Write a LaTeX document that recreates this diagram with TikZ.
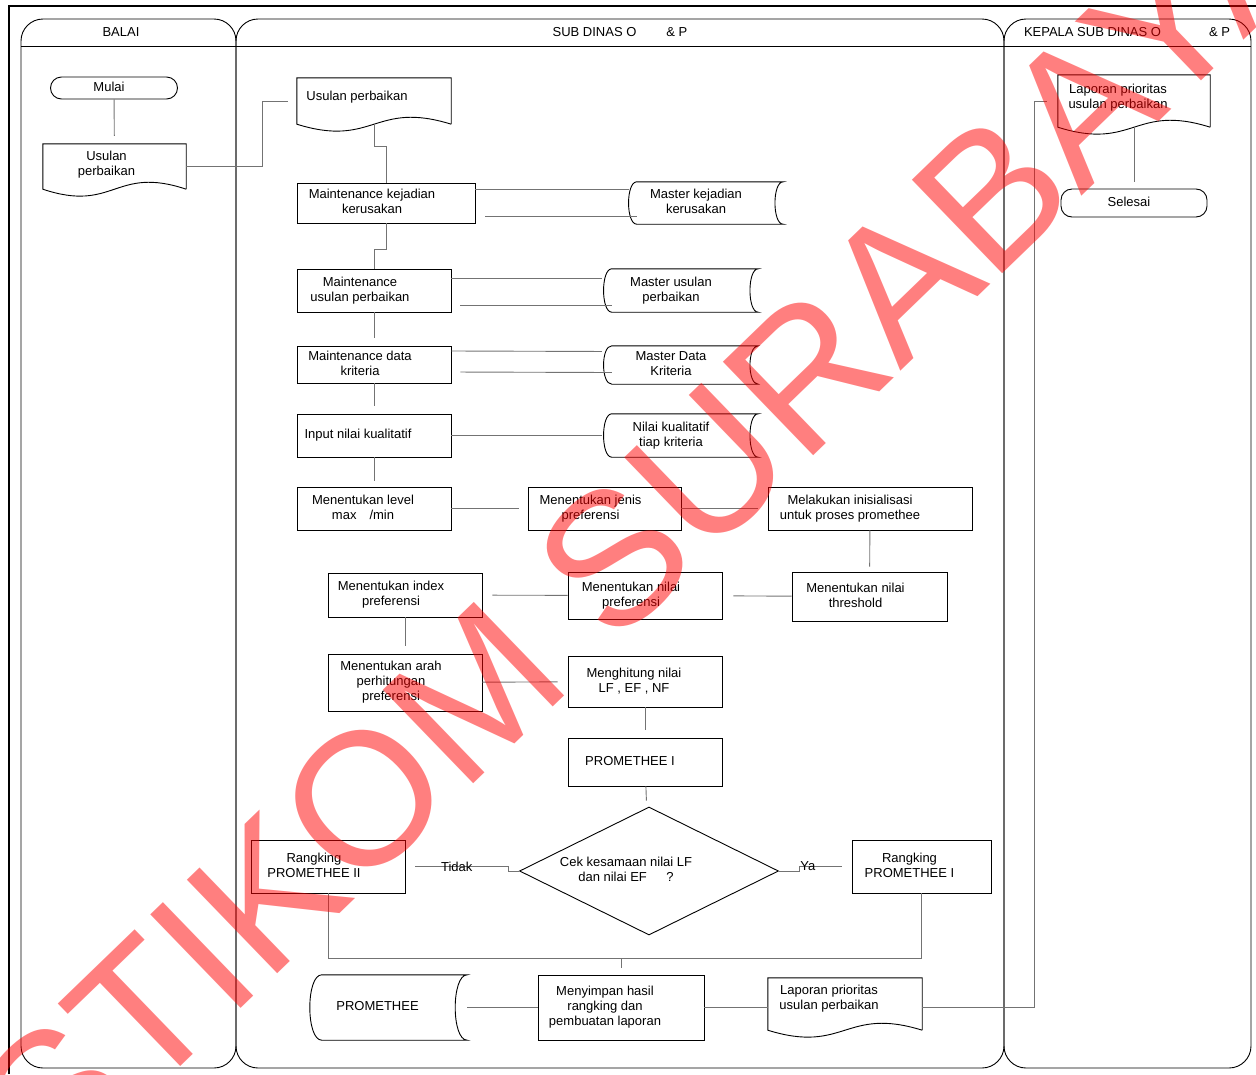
\documentclass[tikz,border=0pt]{standalone}
\usepackage{fontspec}
\setmainfont{Liberation Sans}
\usetikzlibrary{shapes.geometric}
% teks di dalam simbol, sedikit ke kiri seperti aslinya
\newcommand{\teks}[2][28pt]{\begin{tabular}{@{}c@{\hspace{#1}}}#2\end{tabular}}

\begin{document}
\begin{tikzpicture}[x=1pt, y=-1pt,
    font=\fontsize{13}{15}\selectfont,
    every node/.style={inner sep=2pt},
    proc/.style={draw, line width=0.9pt, rectangle},
    term/.style={draw, line width=0.9pt, rectangle, rounded corners=11pt},
    dec/.style={draw, line width=0.9pt, diamond, aspect=2, inner sep=0pt},
    doc/.style={rectangle, append after command={\pgfextra{
        \draw[line width=0.9pt] (\tikzlastnode.south east) -- (\tikzlastnode.north east)
          -- (\tikzlastnode.north west) -- (\tikzlastnode.south west)
          .. controls ([yshift=-24pt]\tikzlastnode.south) and ([yshift=24pt]\tikzlastnode.south) .. (\tikzlastnode.south east);}}},
    stored/.style={rectangle, append after command={\pgfextra{
        \draw[line width=0.9pt] (\tikzlastnode.north west) -- (\tikzlastnode.north east)
          .. controls ([xshift=-#1]\tikzlastnode.north east) and ([xshift=-#1]\tikzlastnode.south east) .. (\tikzlastnode.south east)
          -- (\tikzlastnode.south west)
          .. controls ([xshift=-#1]\tikzlastnode.south west) and ([xshift=-#1]\tikzlastnode.north west) .. (\tikzlastnode.north west) -- cycle;}}},
    stored/.default=11pt,
    conn/.style={draw=black!55, line width=0.9pt},
    lane/.style={draw, line width=0.9pt, rounded corners=22pt},
    wmark/.style={text=red, opacity=0.5, font=\fontsize{189}{189}\selectfont, rotate=44}]

    \useasboundingbox (0,0) rectangle (1256,1074);

    % bingkai dan jalur
    \draw[line width=2.5pt] (9,1074) -- (9,6) -- (1256,6);
    \draw[lane] (21,19) rectangle (236,1068);
    \draw[lane] (236,19) rectangle (1004,1068);
    \draw[lane] (1004,19) rectangle (1251,1068);
    \draw[line width=0.9pt] (21,46) -- (1251,46);
    \node (hbalai) at (121,32) {BALAI};
    \node (hsub) at (620,32) {SUB DINAS O\hspace{30pt}\& P};
    \node (hkepala) at (1127,32) {KEPALA SUB DINAS O\hspace{48pt}\& P};

    % balai
    \node[term, minimum width=127, minimum height=22] (mulai) at (114,88) {\teks[10pt]{Mulai}};
    \node[doc, minimum width=143, minimum height=45] (ub) at (114.5,166.5) {\teks[16pt]{Usulan\\perbaikan\\[4pt]}};

    % sub dinas
    \node[doc, minimum width=154, minimum height=46] (up2) at (374,101) {\teks[34pt]{Usulan perbaikan\\[8pt]}};
    \node[proc, minimum width=178, minimum height=40] (mkk) at (386,203) {\teks{Maintenance kejadian\\kerusakan}};
    \node[stored, minimum width=146, minimum height=42] (mastkk) at (710,203) {\teks{Master kejadian\\kerusakan}};
    \node[proc, minimum width=154, minimum height=43] (mup) at (374,290.5) {\teks{Maintenance\\usulan perbaikan}};
    \node[stored, minimum width=146, minimum height=43] (mastup) at (685,290.5) {\teks{Master usulan\\perbaikan}};
    \node[proc, minimum width=154, minimum height=37] (mdk) at (374,364.5) {\teks{Maintenance data\\kriteria}};
    \node[stored, minimum width=146, minimum height=38] (mastdk) at (685,365) {\teks{Master Data\\Kriteria}};
    \node[proc, minimum width=154, minimum height=43] (inp) at (374,435.5) {\teks[32pt]{Input nilai kualitatif}};
    \node[stored, minimum width=146, minimum height=43] (nkt) at (685,435.5) {\teks{Nilai kualitatif\\tiap kriteria}};
    \node[proc, minimum width=154, minimum height=43] (mlv) at (374,508.5) {\teks[22pt]{Menentukan level\\max\hspace{1em}/min}};
    \node[proc, minimum width=153, minimum height=43] (mjp) at (604.5,508.5) {\teks{Menentukan jenis\\preferensi}};
    \node[proc, minimum width=204, minimum height=43] (mii) at (870,508.5) {\teks[40pt]{Melakukan inisialisasi\\untuk proses promethee}};
    \node[proc, minimum width=155, minimum height=49] (mnt) at (869.5,596.5) {\teks{Menentukan nilai\\threshold}};
    \node[proc, minimum width=154, minimum height=47] (mnp) at (645,595.5) {\teks{Menentukan nilai\\preferensi}};
    \node[proc, minimum width=154, minimum height=44] (mip) at (405,595) {\teks{Menentukan index\\preferensi}};
    \node[proc, minimum width=154, minimum height=57] (mah) at (405,682.5) {\teks{Menentukan arah\\perhitungan\\preferensi}};
    \node[proc, minimum width=154, minimum height=51] (mhn) at (645,681.5) {\teks[22pt]{Menghitung nilai\\LF , EF , NF}};
    \node[proc, minimum width=154, minimum height=48] (p1) at (645,762) {\teks[30pt]{PROMETHEE I}};
    \node[dec, minimum width=259, minimum height=128] (cek) at (649,871) {\teks[46pt]{Cek kesamaan nilai LF\\dan nilai EF\hspace{1.5em}?}};
    \node[proc, minimum width=154, minimum height=53] (rp2) at (328,866.5) {\teks{Rangking\\PROMETHEE II}};
    \node[proc, minimum width=139, minimum height=53] (rp1) at (921.5,866.5) {\teks[24pt]{Rangking\\PROMETHEE I}};
    \node[stored=16pt, minimum width=145, minimum height=65] (prom) at (394.5,1007.5) {\teks[34pt]{PROMETHEE}};
    \node[proc, minimum width=166, minimum height=65] (msh) at (621,1007.5) {\teks[32pt]{Menyimpan hasil\\rangking dan\\pembuatan laporan}};
    \node[doc, minimum width=154, minimum height=52] (lap) at (845,1004) {\teks[32pt]{Laporan prioritas\\usulan perbaikan\\[10pt]}};

    % kepala sub dinas
    \node[doc, minimum width=152, minimum height=52] (lap3) at (1134,101) {\teks[32pt]{Laporan prioritas\\usulan perbaikan\\[7pt]}};
    \node[term, minimum width=146, minimum height=28] (selesai) at (1134,203) {\teks[10pt]{Selesai}};

    % garis alir
    \draw[conn, shorten >=8pt] (mulai) -- (ub);
    \draw[conn, shorten >=9pt] (ub.east) -- ++(76,0) |- (up2.west);
    \draw[conn] (up2.south) -- ++(0,22) -| (mkk.north);
    \draw[conn] (mkk.south) -- ++(0,26) -| (mup.north);
    \draw[conn, shorten >=8pt] ([yshift=14pt]mkk.east) -- ([yshift=14pt]mastkk.west);
    \draw[conn, shorten <=10pt] ([yshift=-13pt]mkk.east) -- ([yshift=-13pt]mastkk.west);
    \draw[conn, shorten >=10pt] ([yshift=12.5pt]mup.east) -- ([yshift=12.5pt]mastup.west);
    \draw[conn, shorten <=9pt] ([yshift=-14.5pt]mup.east) -- ([yshift=-14.5pt]mastup.west);
    \draw[conn, shorten >=8pt] (mup) -- (mdk);
    \draw[conn, shorten >=10pt] ([yshift=13.5pt]mdk.east) -- ([yshift=13.5pt]mastdk.west);
    \draw[conn, shorten <=9pt] ([yshift=-7.5pt]mdk.east) -- ([yshift=-7.5pt]mastdk.west);
    \draw[conn, shorten >=8pt] (mdk) -- (inp);
    \draw[conn, shorten >=10pt] (inp.east) -- (nkt.west);
    \draw[conn, shorten >=6pt] (inp) -- (mlv);
    \draw[conn, shorten >=9pt] (mlv) -- (mjp);
    \draw[conn, shorten >=10pt] (mjp) -- (mii);
    \draw[conn, shorten >=5pt] (mii) -- (mnt);
    \draw[conn, shorten >=11pt] (mnt) -- (mnp);
    \draw[conn, shorten >=10pt] (mnp) -- (mip);
    \draw[conn, shorten >=8pt] (mip) -- (mah);
    \draw[conn, shorten >=10pt] (mah) -- (mhn);
    \draw[conn, shorten >=8pt] (mhn) -- (p1);
    \draw[conn, shorten >=7pt] (p1) -- (cek);
    \draw[conn, shorten >=10pt] (cek.west) -- ++(-11,0) |- (rp2.east) node[pos=0.75] {Tidak};
    \draw[conn, shorten >=10pt] (cek.east) -- ++(20,0) |- (rp1.west) node[pos=0.5, anchor=west, inner sep=1pt] {Ya};
    \coordinate (bus) at (621,958);
    \draw[conn] (rp2.south) |- (bus) -| (rp1.south);
    \draw[conn, shorten >=7pt] (bus) -- (msh.north);
    \draw[conn] (prom.east) -- (msh.west);
    \draw[conn] (msh.east) -- (msh.east -| lap.west);
    \draw[conn, shorten >=11pt] (msh.east -| lap.east) -- ++(112,0) |- (lap3.west);
    \draw[conn, shorten >=7pt] (lap3.south) -- (selesai.north);

    % tanda air
    \node[wmark] (stikom) at (649,524) {STIKOM SURABAYA};
\end{tikzpicture}
\end{document}
